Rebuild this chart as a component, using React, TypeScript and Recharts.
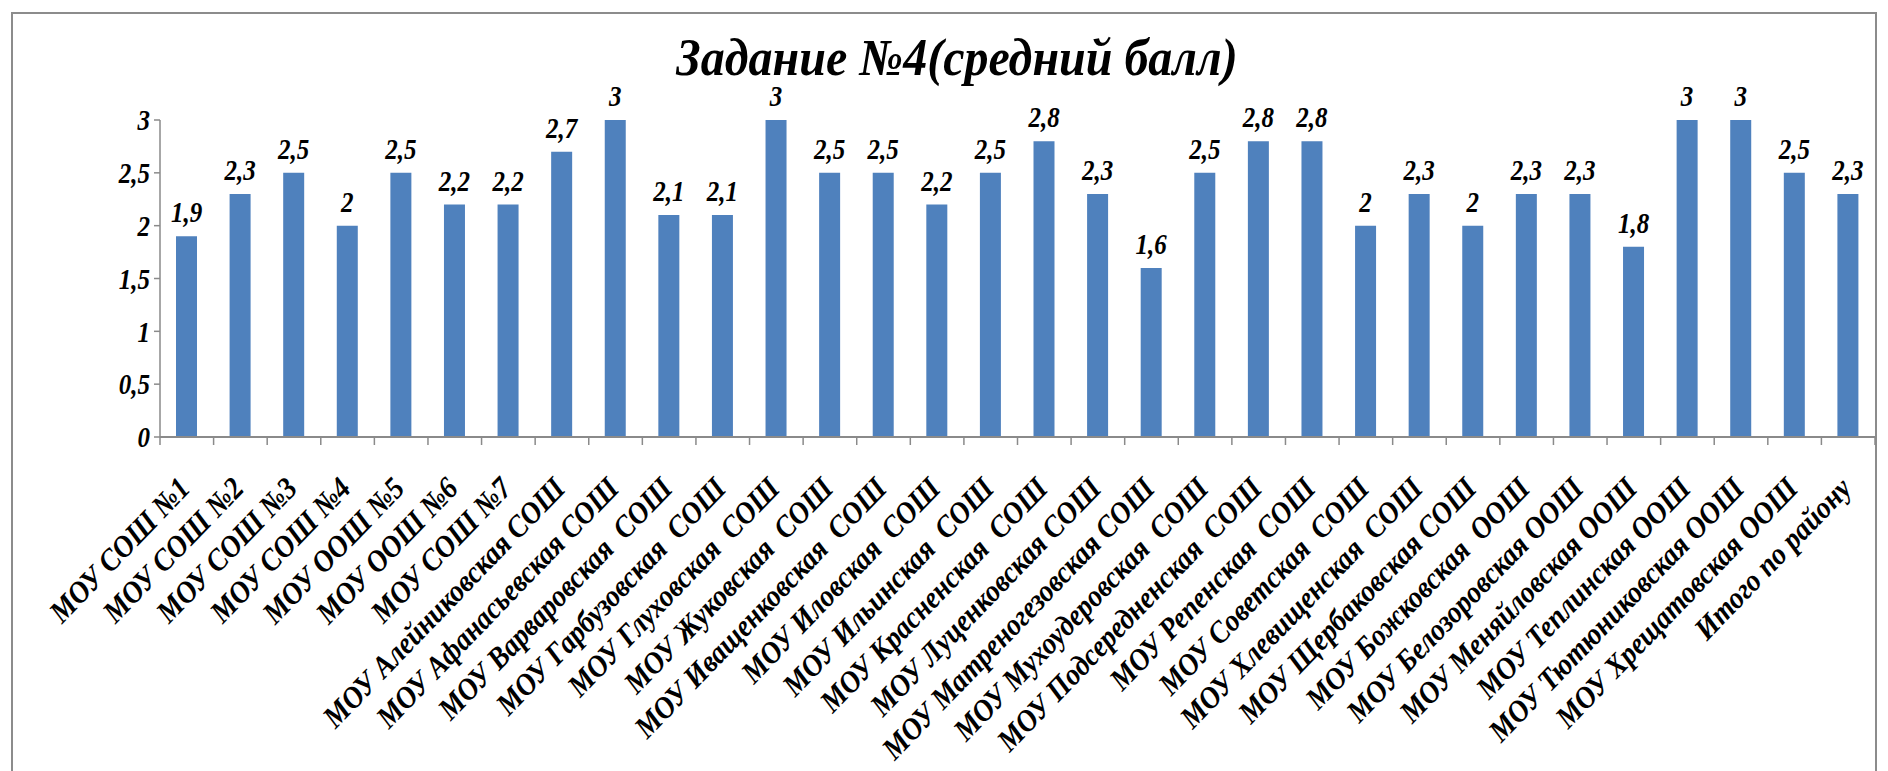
import React from 'react';
import { BarChart, Bar, XAxis, YAxis, LabelList } from 'recharts';

const categories = [
  'МОУ СОШ №1',
  'МОУ СОШ №2',
  'МОУ СОШ №3',
  'МОУ СОШ №4',
  'МОУ ООШ №5',
  'МОУ ООШ №6',
  'МОУ СОШ №7',
  'МОУ Алейниковская СОШ',
  'МОУ Афанасьевская СОШ',
  'МОУ Варваровская  СОШ',
  'МОУ Гарбузовская  СОШ',
  'МОУ Глуховская  СОШ',
  'МОУ Жуковская  СОШ',
  'МОУ Иващенковская  СОШ',
  'МОУ Иловская  СОШ',
  'МОУ Ильинская  СОШ',
  'МОУ Красненская  СОШ',
  'МОУ Луценковская СОШ',
  'МОУ Матреногезовская СОШ',
  'МОУ Мухоудеровская  СОШ',
  'МОУ Подсередненская  СОШ',
  'МОУ Репенская  СОШ',
  'МОУ Советская  СОШ',
  'МОУ Хлевищенская  СОШ',
  'МОУ Щербаковская СОШ',
  'МОУ Божковская  ООШ',
  'МОУ Белозоровская ООШ',
  'МОУ Меняйловская ООШ',
  'МОУ Теплинская ООШ',
  'МОУ Тютюниковская ООШ',
  'МОУ Хрещатовская ООШ',
  'Итого по району',
];

const averageScores = [
  1.9, 2.3, 2.5, 2, 2.5, 2.2, 2.2, 2.7, 3, 2.1, 2.1, 3, 2.5, 2.5, 2.2, 2.5,
  2.8, 2.3, 1.6, 2.5, 2.8, 2.8, 2, 2.3, 2, 2.3, 2.3, 1.8, 3, 3, 2.5, 2.3,
];

const yTicks = [0, 0.5, 1, 1.5, 2, 2.5, 3];

const titleText = 'Задание №4(средний балл)';

const data = categories.map((name, i) => ({ name, value: averageScores[i] }));

const FONT = '"Liberation Serif", "Times New Roman", serif';
const fmt = (v: number) => String(v).replace('.', ',');

const textStyle = {
  fontFamily: FONT,
  fontWeight: 'bold' as const,
  fontStyle: 'italic' as const,
  fill: '#000',
};

const CategoryTick = (props: any) => {
  const { x, y, payload, index, visibleTicksCount } = props;
  const half = payload && payload.offset ? payload.offset : 26.8;
  const last = index === (visibleTicksCount || categories.length) - 1;
  return (
    <g>
      <line x1={x - half} y1={y} x2={x - half} y2={y + 8} stroke="#8a8a8a" strokeWidth={1.5} />
      {last && <line x1={x + half} y1={y} x2={x + half} y2={y + 8} stroke="#8a8a8a" strokeWidth={1.5} />}
      <text
        transform={`translate(${x + 5},${y + 53}) rotate(-46) scale(1,1.1)`}
        textAnchor="end"
        fontSize={28}
        {...textStyle}
        style={{ whiteSpace: 'pre' }}
      >
        {payload.value}
      </text>
    </g>
  );
};

const ValueTick = (props: any) => {
  const { x, y, payload } = props;
  return (
    <text
      transform={`translate(${x},${y}) scale(1,1.2)`}
      textAnchor="end"
      dy="0.34em"
      fontSize={25}
      {...textStyle}
    >
      {fmt(payload.value)}
    </text>
  );
};

const BarValueLabel = (props: any) => {
  const { x, y, width, value } = props;
  return (
    <text
      transform={`translate(${x + width / 2},${y - 14}) scale(1,1.2)`}
      textAnchor="middle"
      fontSize={25}
      {...textStyle}
    >
      {fmt(value)}
    </text>
  );
};

export default function App() {
  return (
    <div style={{ position: 'relative', width: 1872, height: 763, overflow: 'hidden', background: '#fff' }}>
      <div
        style={{
          position: 'absolute',
          left: 3,
          top: 4,
          width: 1866,
          height: 900,
          borderTop: '2px solid #8c8c8c',
          borderLeft: '2px solid #8c8c8c',
          borderRight: '2px solid #8c8c8c',
          boxSizing: 'border-box',
        }}
      />
      <div
        style={{
          position: 'absolute',
          left: 654,
          top: 26,
          width: 590,
          textAlign: 'center',
          fontFamily: FONT,
          fontWeight: 'bold',
          fontStyle: 'italic',
          fontSize: 48,
          lineHeight: '48px',
          color: '#000',
          whiteSpace: 'nowrap',
          transform: 'scaleY(1.08)',
        }}
      >
        {titleText}
      </div>
      <div style={{ position: 'absolute', left: 0, top: 0 }}>
        <BarChart
          width={1872}
          height={763}
          data={data}
          margin={{ top: 112, right: 5, left: 92, bottom: 0 }}
          barSize={21}
        >
          <XAxis
            dataKey="name"
            interval={0}
            tickLine={false}
            tickSize={0}
            tickMargin={0}
            height={334}
            axisLine={{ stroke: '#8a8a8a', strokeWidth: 2 }}
            tick={<CategoryTick />}
          />
          <YAxis
            width={60}
            domain={[0, 3]}
            ticks={yTicks}
            interval={0}
            axisLine={{ stroke: '#8a8a8a', strokeWidth: 1.5 }}
            tickLine={{ stroke: '#8a8a8a', strokeWidth: 1.5 }}
            tickSize={6}
            tickMargin={4}
            tick={<ValueTick />}
          />
          <Bar dataKey="value" fill="#4F81BD" isAnimationActive={false}>
            <LabelList dataKey="value" position="top" content={<BarValueLabel />} />
          </Bar>
        </BarChart>
      </div>
    </div>
  );
}
